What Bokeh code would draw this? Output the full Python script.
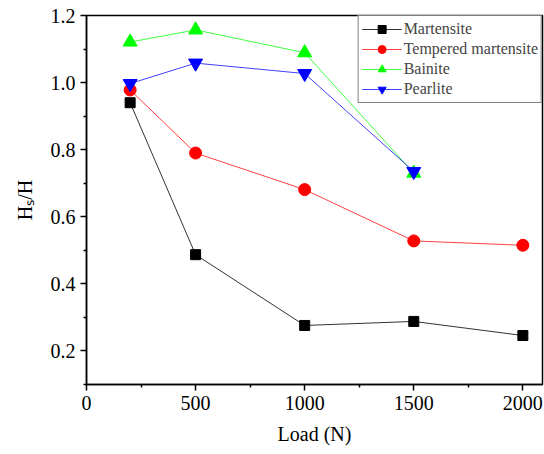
from bokeh.plotting import figure
from bokeh.models import Range1d, Legend, LegendItem, FixedTicker, PrintfTickFormatter
from bokeh.embed import file_html
from bokeh.resources import INLINE

loads = [200, 500, 1000, 1500, 2000]
loads_short = [200, 500, 1000, 1500]
martensite = [0.94, 0.487, 0.276, 0.288, 0.246]
tempered = [0.978, 0.79, 0.681, 0.528, 0.515]
bainite = [1.121, 1.157, 1.089, 0.730]
pearlite = [0.997, 1.058, 1.027, 0.735]

x_ticks = [0, 500, 1000, 1500, 2000]
y_ticks = [0.2, 0.4, 0.6, 0.8, 1.0, 1.2]

FONT = "'Times New Roman', 'Liberation Serif', serif"

p = figure(width=544, height=454, output_backend="svg", toolbar_location=None,
           x_range=Range1d(0, 2090), y_range=Range1d(0.1, 1.2),
           min_border_left=86, min_border_right=2, min_border_top=15, min_border_bottom=70)
p.xgrid.visible = False
p.ygrid.visible = False
p.outline_line_color = "black"
p.outline_line_width = 1.5

for ax in (p.xaxis[0], p.yaxis[0]):
    ax.axis_line_width = 1.5
    ax.major_tick_line_width = 1.5
    ax.minor_tick_line_width = 1.5
    ax.major_tick_out = 6
    ax.major_tick_in = 0
    ax.minor_tick_out = 3
    ax.minor_tick_in = 0
    ax.major_label_text_font = FONT
    ax.major_label_text_font_size = "20px"
    ax.major_label_text_color = "black"
    ax.axis_label_text_font = FONT
    ax.axis_label_text_font_size = "20px"
    ax.axis_label_text_font_style = "normal"
    ax.axis_label_text_color = "black"
    ax.major_label_standoff = 5

p.xaxis.ticker = FixedTicker(ticks=x_ticks, minor_ticks=[250, 750, 1250, 1750])
p.yaxis.ticker = FixedTicker(ticks=y_ticks, minor_ticks=[0.1, 0.3, 0.5, 0.7, 0.9, 1.1])
p.yaxis.formatter = PrintfTickFormatter(format="%.1f")
p.xaxis.axis_label = "Load (N)"
p.yaxis.axis_label = "Hₛ/H"
p.xaxis.axis_label_standoff = 10
p.yaxis.axis_label_standoff = 12

l1 = p.line(loads, martensite, line_color="#333333", line_width=1)
m1 = p.scatter(loads, martensite, marker="square", size=10, fill_color="black", line_color="black")
l2 = p.line(loads, tempered, line_color="#ff4040", line_width=1)
m2 = p.scatter(loads, tempered, marker="circle", size=12, fill_color="red", line_color="red")
l3 = p.line(loads_short, bainite, line_color="#40ff40", line_width=1)
m3 = p.scatter(loads_short, bainite, marker="triangle", size=14, fill_color="#00ff00", line_color="#00ff00")
l4 = p.line(loads_short, pearlite, line_color="#4040ff", line_width=1)
m4 = p.scatter(loads_short, pearlite, marker="inverted_triangle", size=14, fill_color="blue", line_color="blue")

legend = Legend(items=[
    LegendItem(label="Martensite", renderers=[l1, m1]),
    LegendItem(label="Tempered martensite", renderers=[l2, m2]),
    LegendItem(label="Bainite", renderers=[l3, m3]),
    LegendItem(label="Pearlite", renderers=[l4, m4]),
], location="top_right")
legend.margin = 0
legend.padding = 3
legend.spacing = 0
legend.label_text_font = FONT
legend.label_text_font_size = "16px"
legend.label_height = 20
legend.glyph_height = 20
legend.glyph_width = 40
legend.label_standoff = 2
legend.border_line_color = "black"
legend.border_line_width = 1
legend.background_fill_alpha = 1
p.add_layout(legend)

open("out.html", "w").write(file_html(p, INLINE))
